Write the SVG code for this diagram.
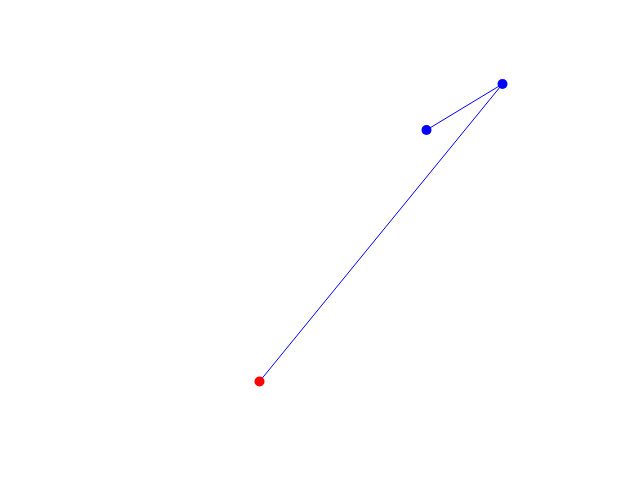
<svg xmlns="http://www.w3.org/2000/svg" width="640" height="480" viewBox="0 0 640 480">
<style>
.edge{stroke:#0000ff;stroke-width:1;fill:none}
</style>
<rect width="640" height="480" fill="#ffffff"/>
<g id="connectors">
<line class="edge" x1="259.5" y1="381.5" x2="502.5" y2="84"/>
<line class="edge" x1="426.5" y1="130" x2="502.5" y2="84"/>
</g>
<g id="node-red"><circle cx="259.5" cy="381.5" r="5" fill="#ff0000"/></g>
<g id="node-blue1"><circle cx="426.5" cy="130" r="5" fill="#0000ff"/></g>
<g id="node-blue2"><circle cx="502.5" cy="84" r="5" fill="#0000ff"/></g>
</svg>
